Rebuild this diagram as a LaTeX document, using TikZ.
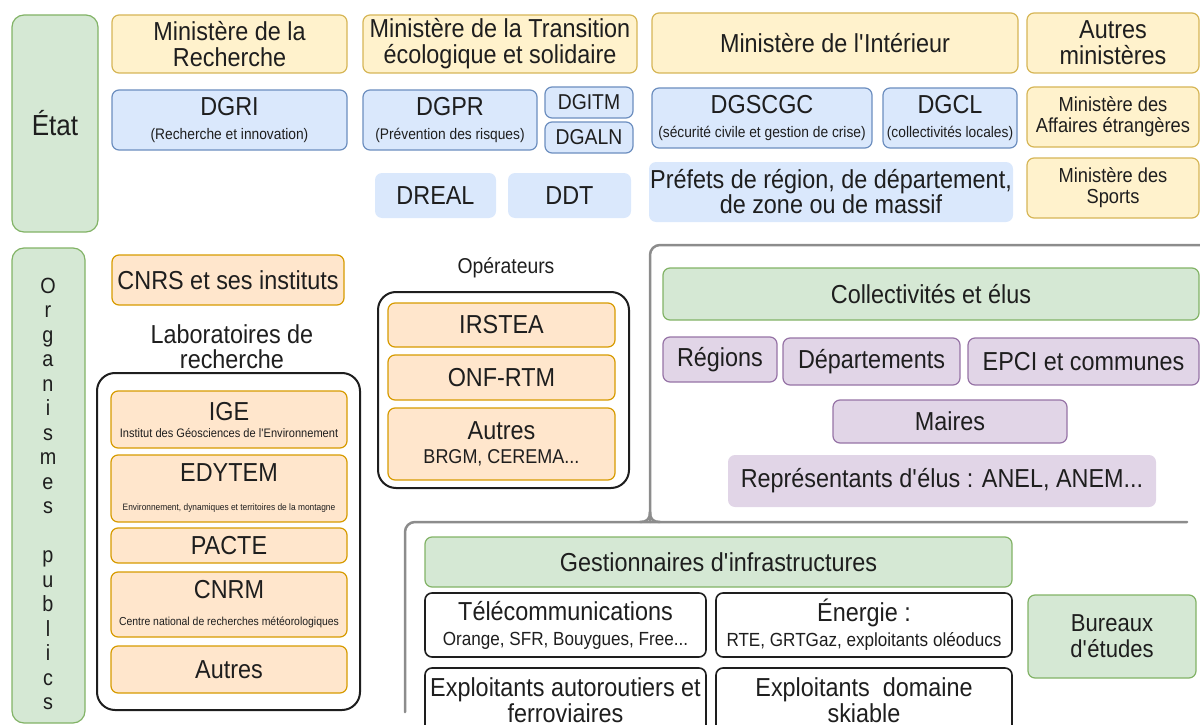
\documentclass[tikz,border=0pt]{standalone}
\usepackage{fontspec}
\setmainfont[FakeStretch=0.9]{Liberation Sans}
\usepackage{tikz}

\definecolor{ink}{HTML}{1E1E1E}
\definecolor{grfill}{HTML}{D5E8D4}
\definecolor{grline}{HTML}{82B366}
\definecolor{yefill}{HTML}{FFF2CC}
\definecolor{yeline}{HTML}{D6B656}
\definecolor{blfill}{HTML}{DAE8FC}
\definecolor{blline}{HTML}{6C8EBF}
\definecolor{orfill}{HTML}{FFE6CC}
\definecolor{orline}{HTML}{D79B00}
\definecolor{mvfill}{HTML}{E1D5E7}
\definecolor{mvline}{HTML}{9673A6}
\definecolor{frgray}{HTML}{8C8C8C}
\newcommand\setfs[2]{\fontsize{#1}{#2}\selectfont}
\newcommand\apos{\textquotesingle}

\begin{document}
\begin{tikzpicture}[x=1pt,y=-1pt,line cap=round,line join=round,
    box/.style={rounded corners=7pt,inner sep=0pt,align=center,text=ink,line width=1.2pt,font=\setfs{26}{26}},
    vert/.style={box,draw=grline,fill=grfill},
    jaune/.style={box,draw=yeline,fill=yefill},
    bleu/.style={box,draw=blline,fill=blfill},
    bleupale/.style={box,fill=blfill},
    orbox/.style={box,draw=orline,fill=orfill},
    mauve/.style={box,draw=mvline,fill=mvfill},
    mauvepale/.style={box,fill=mvfill},
    cadre/.style={box,draw=ink,fill=white,line width=1.6pt},
    groupe/.style={box,draw=ink,rounded corners=18pt,line width=2pt},
    titre/.style={inner sep=0pt,align=center,text=ink,font=\setfs{26}{25}},
    frame/.style={draw=frgray,line width=2.5pt,rounded corners=10pt}]
\useasboundingbox (0,0) rectangle (1200,725);
\clip (0,0) rectangle (1200,725);
% Etat
\node[vert,rounded corners=12pt,minimum width=86pt,minimum height=217pt,font=\setfs{29}{29}] (etat) at (55,123.5) {État};
\node[jaune,minimum width=235pt,minimum height=58pt] (minrech) at (229.5,44) {Ministère de la\\Recherche};
\node[jaune,minimum width=274pt,minimum height=58pt] (mintrans) at (500,44) {Ministère de la Transition\\écologique et solidaire};
\node[jaune,minimum width=366pt,minimum height=60pt] (minint) at (835,43) {Ministère de l\apos Intérieur};
\node[jaune,minimum width=172pt,minimum height=60pt] (autresmin) at (1113,43) {Autres\\ministères};
\node[bleu,minimum width=235pt,minimum height=60pt] (dgri) at (229.5,120) {DGRI\\[-2pt]\setfs{15.3}{15}(Recherche et innovation)};
\node[bleu,minimum width=174pt,minimum height=60pt] (dgpr) at (450,120) {DGPR\\[-2pt]\setfs{15.3}{15}(Prévention des risques)};
\node[bleu,minimum width=88pt,minimum height=31pt,font=\setfs{21.5}{21.5}] (dgitm) at (589,102.5) {DGITM};
\node[bleu,minimum width=88pt,minimum height=31pt,font=\setfs{21.5}{21.5}] (dgaln) at (589,137.5) {DGALN};
\node[bleu,minimum width=220pt,minimum height=60pt] (dgscgc) at (762,118) {DGSCGC\\[-2pt]\setfs{15.3}{15}(sécurité civile et gestion de crise)};
\node[bleu,minimum width=134pt,minimum height=60pt] (dgcl) at (950,118) {DGCL\\[-2pt]\setfs{15.3}{15}(collectivités locales)};
\node[jaune,minimum width=172pt,minimum height=60pt,font=\setfs{20.3}{21}] (minae) at (1113,117) {Ministère des\\Affaires étrangères};
\node[bleupale,minimum width=121pt,minimum height=45pt] (dreal) at (435.5,195.5) {DREAL};
\node[bleupale,minimum width=123pt,minimum height=45pt] (ddt) at (569.5,195.5) {DDT};
\node[bleupale,minimum width=364pt,minimum height=60pt,font=\setfs{26}{25}] (prefets) at (831,192) {Préfets de région, de département,\\de zone ou de massif};
\node[jaune,minimum width=172pt,minimum height=60pt,font=\setfs{20.3}{21}] (minsports) at (1113,188) {Ministère des\\Sports};
% Organismes publics
\node[vert,rounded corners=12pt,minimum width=73pt,minimum height=475pt] (orgpub) at (48.5,485.5) {};
\node[inner sep=0pt,align=center,text=ink,font=\setfs{22}{24.5}] (orgtxt) at (48,494) {O\\r\\g\\a\\n\\i\\s\\m\\e\\s\\[24.5pt]p\\u\\b\\l\\i\\c\\s};
\node[orbox,minimum width=232pt,minimum height=50pt] (cnrs) at (228,280) {CNRS et ses instituts};
\node[titre] (labtitre) at (232,347) {Laboratoires de\\recherche};
\node[groupe,minimum width=263pt,minimum height=337pt] (labs) at (228.5,541.5) {};
\node[orbox,minimum width=236pt,minimum height=57pt] (ige) at (229,419.5) {IGE\\[-9pt]\setfs{12.3}{12}Institut des Géosciences de l\apos Environnement};
\node[orbox,minimum width=236pt,minimum height=67pt] (edytem) at (229,488.5) {EDYTEM\\[3pt]\setfs{9.3}{9}Environnement, dynamiques et territoires de la montagne};
\node[orbox,minimum width=236pt,minimum height=35pt] (pacte) at (229,545.5) {PACTE};
\node[orbox,minimum width=236pt,minimum height=65pt] (cnrm) at (229,604.5) {CNRM\\[1pt]\setfs{11.6}{11}Centre national de recherches météorologiques};
\node[orbox,minimum width=236pt,minimum height=47pt] (autreslab) at (229,669.5) {Autres};
% Operateurs
\node[titre,font=\setfs{21.5}{21.5}] (optitre) at (506,268) {Opérateurs};
\node[groupe,minimum width=251pt,minimum height=196pt] (ops) at (503.5,390) {};
\node[orbox,minimum width=227pt,minimum height=44pt] (irstea) at (501.5,325) {IRSTEA};
\node[orbox,minimum width=227pt,minimum height=45pt] (onf) at (501.5,377.5) {ONF-RTM};
\node[orbox,minimum width=227pt,minimum height=72pt] (autresop) at (501.5,444) {Autres\\[-2pt]\setfs{20}{20}BRGM, CEREMA...};
% Collectivites
\draw[frame] (1200,245) -- (650,245) -- (650,522);
\node[vert,minimum width=536pt,minimum height=52pt] (collect) at (931,294) {Collectivités et élus};
\node[mauve,minimum width=114pt,minimum height=45pt] (regions) at (720,359.5) {Régions};
\node[mauve,minimum width=177pt,minimum height=47pt] (depts) at (871.5,361.5) {Départements};
\node[mauve,minimum width=231pt,minimum height=47pt] (epci) at (1083.5,361.5) {EPCI et communes};
\node[mauve,minimum width=234pt,minimum height=43pt] (maires) at (950,421.5) {Maires};
\node[mauvepale,minimum width=428pt,minimum height=52pt] (repr) at (942,481) {Représentants d\apos élus : ANEL, ANEM...};
% Gestionnaires
\draw[frame] (1187,522) -- (405,522) -- (405,712);
\draw[frame,rounded corners=0pt] (640,522) .. controls (647,522) and (650,519) .. (650,512);
\draw[frame,rounded corners=0pt] (660,522) .. controls (653,522) and (650,519) .. (650,512);
\node[vert,minimum width=587pt,minimum height=50pt] (gest) at (718.5,562) {Gestionnaires d\apos infrastructures};
\node[cadre,minimum width=281pt,minimum height=64pt] (telecom) at (565.5,625) {Télécommunications\\[-1pt]\setfs{19}{19}Orange, SFR, Bouygues, Free...};
\node[cadre,minimum width=296pt,minimum height=64pt] (energie) at (864,625) {Énergie :\\[-1pt]\setfs{19}{19}RTE, GRTGaz, exploitants oléoducs};
\node[cadre,minimum width=281pt,minimum height=64pt] (autorout) at (565.5,700) {Exploitants autoroutiers et\\ferroviaires};
\node[cadre,minimum width=296pt,minimum height=64pt] (skiable) at (864,700) {Exploitants~ domaine\\skiable};
\node[vert,minimum width=168pt,minimum height=83pt,font=\setfs{24.5}{26}] (bureaux) at (1112,636.5) {Bureaux\\d\apos études};
\end{tikzpicture}
\end{document}
